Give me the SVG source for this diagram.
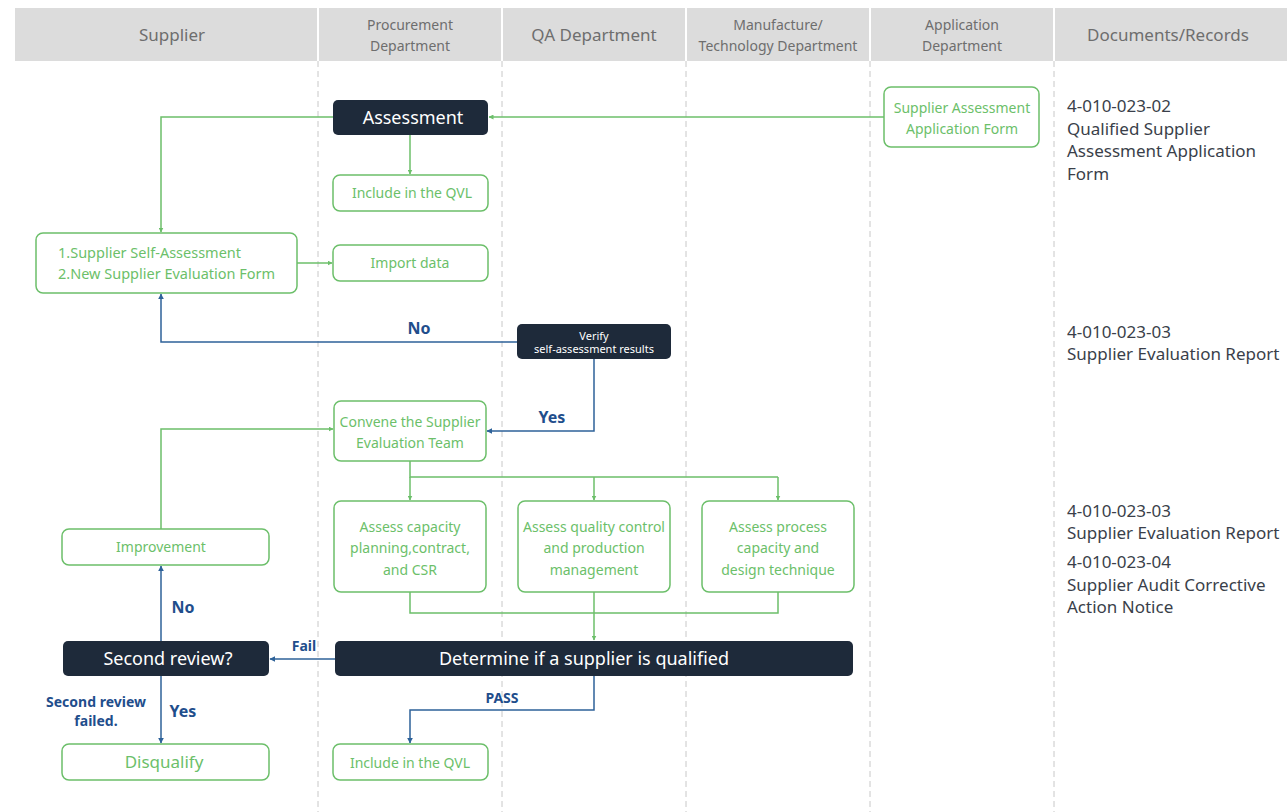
<svg xmlns="http://www.w3.org/2000/svg" width="1287" height="812" viewBox="0 0 1287 812">
<style>
.hdr{fill:#6e6e6e;font-family:"Noto Sans",sans-serif;text-anchor:middle}
.lane{stroke:#c8c8c8;stroke-width:1;stroke-dasharray:6 4}
.gbox{fill:#fff;stroke:#6cbf6a;stroke-width:1.5}
.dbox{fill:#1e2a3a;stroke:none}
.gt{fill:#6cbf6a;font-family:"Noto Sans",sans-serif;font-size:14px;text-anchor:middle}
.gts{fill:#6cbf6a;font-family:"Noto Sans",sans-serif;font-size:14.5px;text-anchor:start}
.wt{fill:#fff;font-family:"Noto Sans",sans-serif;text-anchor:middle}
.gl{fill:none;stroke:#6cbf6a;stroke-width:1.5}
.bl{fill:none;stroke:#2e6299;stroke-width:1.5}
.lbl{fill:#1f4e8c;font-family:"Noto Sans",sans-serif;font-weight:bold;text-anchor:middle}
.doc{fill:#3a3f4a;font-family:"Noto Sans",sans-serif;font-size:17px}
</style>
<defs>
<marker id="ag" viewBox="0 0 10 10" refX="9" refY="5" markerWidth="5" markerHeight="5" orient="auto" markerUnits="userSpaceOnUse"><path d="M0,0 L10,5 L0,10 z" fill="#6cbf6a"/></marker>
<marker id="ab" viewBox="0 0 10 10" refX="9" refY="5" markerWidth="6" markerHeight="6" orient="auto" markerUnits="userSpaceOnUse"><path d="M0,0 L10,5 L0,10 z" fill="#2e6299"/></marker>
</defs>
<rect width="1287" height="812" fill="#fff"/>
<g id="header">
<rect x="15" y="8" width="1272" height="53" fill="#dcdcdc"/>
<g stroke="#fff" stroke-width="2">
<line x1="318" y1="8" x2="318" y2="61"/><line x1="502" y1="8" x2="502" y2="61"/><line x1="686" y1="8" x2="686" y2="61"/><line x1="870" y1="8" x2="870" y2="61"/><line x1="1054" y1="8" x2="1054" y2="61"/>
</g>
<text class="hdr" x="172" y="41" font-size="17">Supplier</text>
<text class="hdr" x="410" y="30" font-size="14">Procurement</text>
<text class="hdr" x="410" y="51" font-size="14">Department</text>
<text class="hdr" x="594" y="41" font-size="17">QA Department</text>
<text class="hdr" x="778" y="30" font-size="14">Manufacture/</text>
<text class="hdr" x="778" y="51" font-size="14">Technology Department</text>
<text class="hdr" x="962" y="30" font-size="14">Application</text>
<text class="hdr" x="962" y="51" font-size="14">Department</text>
<text class="hdr" x="1168" y="41" font-size="17">Documents/Records</text>
</g>
<g id="lanes">
<line class="lane" x1="318" y1="61" x2="318" y2="812"/>
<line class="lane" x1="502" y1="61" x2="502" y2="812"/>
<line class="lane" x1="686" y1="61" x2="686" y2="812"/>
<line class="lane" x1="870" y1="61" x2="870" y2="812"/>
<line class="lane" x1="1054" y1="61" x2="1054" y2="812"/>
</g>
<g id="connectors">
<path class="gl" d="M884,117 L489,117" marker-end="url(#ag)"/>
<path class="gl" d="M333,117 L161,117 L161,232" marker-end="url(#ag)"/>
<path class="gl" d="M410,135 L410,174" marker-end="url(#ag)"/>
<path class="gl" d="M297,263 L332,263" marker-end="url(#ag)"/>
<path class="bl" d="M517,342 L161,342 L161,294" marker-end="url(#ab)"/>
<path class="bl" d="M594,359 L594,431 L487,431" marker-end="url(#ab)"/>
<path class="gl" d="M410,461 L410,477 L778,477"/>
<path class="gl" d="M410,477 L410,500" marker-end="url(#ag)"/>
<path class="gl" d="M594,477 L594,500" marker-end="url(#ag)"/>
<path class="gl" d="M778,477 L778,500" marker-end="url(#ag)"/>
<path class="gl" d="M410,592 L410,613 L778,613 L778,592"/>
<path class="gl" d="M594,592 L594,640" marker-end="url(#ag)"/>
<path class="bl" d="M335,659 L270,659" marker-end="url(#ab)"/>
<path class="bl" d="M161,641 L161,566" marker-end="url(#ab)"/>
<path class="gl" d="M161,529 L161,429 L333,429" marker-end="url(#ag)"/>
<path class="bl" d="M161,676 L161,743" marker-end="url(#ab)"/>
<path class="bl" d="M594,676 L594,710 L410,710 L410,743" marker-end="url(#ab)"/>
<text class="lbl" x="419" y="334" font-size="16">No</text>
<text class="lbl" x="552" y="423" font-size="16">Yes</text>
<text class="lbl" x="304" y="651" font-size="14">Fail</text>
<text class="lbl" x="183" y="613" font-size="16">No</text>
<text class="lbl" x="183" y="717" font-size="16">Yes</text>
<text class="lbl" x="96" y="707" font-size="14">Second review</text>
<text class="lbl" x="96" y="726" font-size="14">failed.</text>
<text class="lbl" x="502" y="703" font-size="14">PASS</text>
</g>
<g id="assessment"><rect class="dbox" x="333" y="100" width="155" height="35" rx="5"/><text class="wt" x="413" y="124" font-size="18">Assessment</text></g>
<g id="qvl1"><rect class="gbox" x="333" y="175" width="155" height="36" rx="7"/><text class="gt" x="412" y="198">Include in the QVL</text></g>
<g id="appform"><rect class="gbox" x="884" y="87" width="155" height="60" rx="7"/><text class="gt" x="962" y="113">Supplier Assessment</text><text class="gt" x="962" y="134">Application Form</text></g>
<g id="selfassess"><rect class="gbox" x="36" y="233" width="261" height="60" rx="7"/><text class="gts" x="58" y="258">1.Supplier Self-Assessment</text><text class="gts" x="58" y="279">2.New Supplier Evaluation Form</text></g>
<g id="import"><rect class="gbox" x="333" y="245" width="155" height="36" rx="7"/><text class="gt" x="410" y="268">Import data</text></g>
<g id="verify"><rect class="dbox" x="517" y="324" width="154" height="35" rx="5"/><text class="wt" x="594" y="340" font-size="11">Verify</text><text class="wt" x="594" y="353" font-size="11">self-assessment results</text></g>
<g id="convene"><rect class="gbox" x="334" y="401" width="152" height="60" rx="7"/><text class="gt" x="410" y="427">Convene the Supplier</text><text class="gt" x="410" y="448">Evaluation Team</text></g>
<g id="assess1"><rect class="gbox" x="334" y="501" width="152" height="91" rx="7"/><text class="gt" x="410" y="532">Assess capacity</text><text class="gt" x="410" y="553">planning,contract,</text><text class="gt" x="410" y="575">and CSR</text></g>
<g id="assess2"><rect class="gbox" x="518" y="501" width="152" height="91" rx="7"/><text class="gt" x="594" y="532">Assess quality control</text><text class="gt" x="594" y="553">and production</text><text class="gt" x="594" y="575">management</text></g>
<g id="assess3"><rect class="gbox" x="702" y="501" width="152" height="91" rx="7"/><text class="gt" x="778" y="532">Assess process</text><text class="gt" x="778" y="553">capacity and</text><text class="gt" x="778" y="575">design technique</text></g>
<g id="improvement"><rect class="gbox" x="62" y="529" width="207" height="36" rx="7"/><text class="gt" x="161" y="552">Improvement</text></g>
<g id="secondreview"><rect class="dbox" x="63" y="641" width="206" height="35" rx="5"/><text class="wt" x="168" y="665" font-size="18">Second review?</text></g>
<g id="determine"><rect class="dbox" x="335" y="641" width="518" height="35" rx="5"/><text class="wt" x="584" y="665" font-size="18">Determine if a supplier is qualified</text></g>
<g id="disqualify"><rect class="gbox" x="62" y="744" width="207" height="36" rx="7"/><text class="gt" x="164" y="768" style="font-size:17px">Disqualify</text></g>
<g id="qvl2"><rect class="gbox" x="333" y="744" width="155" height="36" rx="7"/><text class="gt" x="410" y="768">Include in the QVL</text></g>
<g id="docs">
<text class="doc" x="1067" y="112">4-010-023-02</text>
<text class="doc" x="1067" y="135">Qualified Supplier</text>
<text class="doc" x="1067" y="157">Assessment Application</text>
<text class="doc" x="1067" y="180">Form</text>
<text class="doc" x="1067" y="338">4-010-023-03</text>
<text class="doc" x="1067" y="360">Supplier Evaluation Report</text>
<text class="doc" x="1067" y="517">4-010-023-03</text>
<text class="doc" x="1067" y="539">Supplier Evaluation Report</text>
<text class="doc" x="1067" y="568">4-010-023-04</text>
<text class="doc" x="1067" y="591">Supplier Audit Corrective</text>
<text class="doc" x="1067" y="613">Action Notice</text>
</g>
</svg>
